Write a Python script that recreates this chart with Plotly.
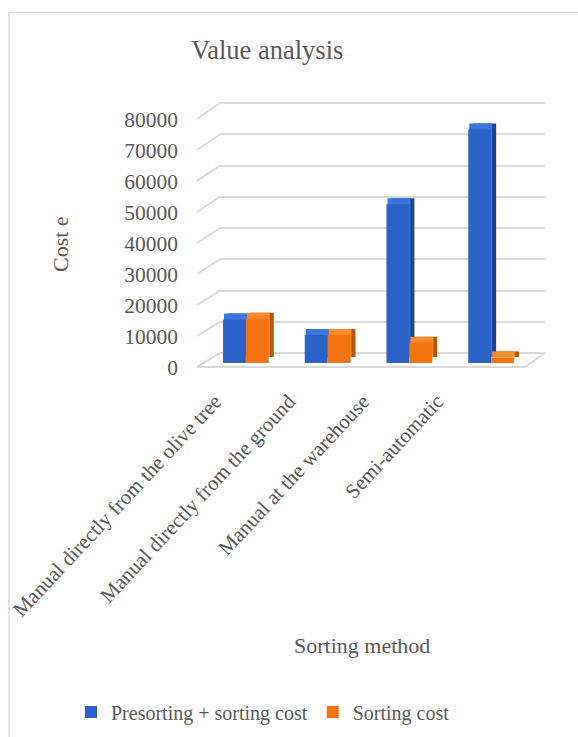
import plotly.graph_objects as go

categories = ["Manual directly from the olive tree", "Manual directly from the ground",
              "Manual at the warehouse", "Semi-automatic"]
presorting_sorting = [14000, 9000, 51000, 75000]
sorting = [14200, 9000, 6500, 1800]
y_ticks = [0, 10000, 20000, 30000, 40000, 50000, 60000, 70000, 80000]
series_names = ["Presorting + sorting cost", "Sorting cost"]

W, H = 578, 737
FONT = "Liberation Serif"
GRAY = "#595959"
GRID = "#d9d9d9"

def px(x):
    return x / W

def py(y):
    return 1 - y / H

# pixel geometry of the fake 3D frame
FRONT_X = (197, 525); FRONT_Y = (367, 119)   # y: zero, top
BACK_X = (220, 545); BACK_Y = (353, 103)
BAR_X = (205, 532); BAR_Y = (363, 114)
SH_DX, SH_DY = 5, 6
LAB_X = (178, 474); LAB_Y = 384
YMAX = 80000
PAD = 800  # value padding so edge gridlines get drawn

fig = go.Figure()

# invisible trace so category labels show (front label axis)
fig.add_trace(go.Scatter(x=categories, y=[None] * len(categories), xaxis="x", yaxis="y",
                         mode="markers", showlegend=False, hoverinfo="skip"))
# back wall gridlines subplot
fig.add_trace(go.Scatter(x=[None], y=[None], xaxis="x2", yaxis="y2", mode="markers",
                         showlegend=False, hoverinfo="skip"))

colors = {
    "blue": dict(front="#2a62c8", side="#1c4392", top="#3b76dc"),
    "orange": dict(front="#f27310", side="#b5570b", top="#f88a2e"),
}
series = [(presorting_sorting, "blue", "a", series_names[0]),
          (sorting, "orange", "b", series_names[1])]

# side faces (shifted right+up), top faces (shifted up), front faces
for layer, (xa, ya) in [("side", ("x3", "y3")), ("top", ("x4", "y4")), ("front", ("x5", "y5"))]:
    for vals, col, grp, name in series:
        fig.add_trace(go.Bar(x=categories, y=vals, xaxis=xa, yaxis=ya,
                             marker=dict(color=colors[col][layer], line=dict(width=0)),
                             offsetgroup=grp, name=name,
                             showlegend=(layer == "front"),
                             hoverinfo="skip" if layer != "front" else None))

shapes = []
# diagonals on left wall
for v in y_ticks:
    yf = FRONT_Y[0] - (FRONT_Y[0] - FRONT_Y[1]) * v / YMAX
    yb = BACK_Y[0] - (BACK_Y[0] - BACK_Y[1]) * v / YMAX
    shapes.append(dict(type="line", xref="paper", yref="paper", layer="below",
                       x0=px(FRONT_X[0]), y0=py(yf), x1=px(BACK_X[0]), y1=py(yb),
                       line=dict(color=GRID, width=2)))
# floor front edge and right edge
shapes.append(dict(type="line", xref="paper", yref="paper", layer="below",
                   x0=px(FRONT_X[0]), y0=py(FRONT_Y[0]), x1=px(FRONT_X[1]), y1=py(FRONT_Y[0]),
                   line=dict(color=GRID, width=2)))
shapes.append(dict(type="line", xref="paper", yref="paper", layer="below",
                   x0=px(FRONT_X[1]), y0=py(FRONT_Y[0]), x1=px(BACK_X[1]), y1=py(BACK_Y[0]),
                   line=dict(color=GRID, width=2)))
# chart border
shapes.append(dict(type="rect", xref="paper", yref="paper", layer="below",
                   x0=px(9), y0=-0.05, x1=1.05, y1=py(12.5),
                   line=dict(color=GRID, width=1.5)))

back_scale = (BACK_Y[0] - BACK_Y[1]) / YMAX
pad_px = PAD * back_scale

fig.update_layout(
    width=W, height=H,
    margin=dict(l=0, r=0, t=0, b=0),
    paper_bgcolor="white", plot_bgcolor="rgba(0,0,0,0)",
    font=dict(family=FONT, color=GRAY, size=20),
    barmode="group", bargap=0.44, bargroupgap=0,
    showlegend=True,
    legend=dict(orientation="h", x=px(263), xanchor="center", y=py(712), yanchor="middle",
                font=dict(size=20, family=FONT, color=GRAY), bgcolor="rgba(0,0,0,0)",
                itemwidth=30, tracegroupgap=0),
    xaxis=dict(domain=[px(LAB_X[0]), px(LAB_X[1])], anchor="free", position=py(LAB_Y),
               type="category", range=[-0.5, 3.5], tickangle=-47, showgrid=False,
               showline=False, zeroline=False, ticks="",
               tickfont=dict(size=21, family=FONT, color=GRAY),
               automargin=False, fixedrange=True),
    yaxis=dict(domain=[py(FRONT_Y[0]), py(FRONT_Y[1])], anchor="free", position=px(178),
               range=[0, YMAX], tickvals=y_ticks, ticktext=[str(v) for v in y_ticks],
               showgrid=False, zeroline=False, showline=False, ticks="",
               tickfont=dict(size=21.5, family=FONT, color=GRAY), automargin=False),
    xaxis2=dict(domain=[px(BACK_X[0]), px(BACK_X[1])], anchor="y2", range=[0, 1],
                visible=False),
    yaxis2=dict(domain=[py(BACK_Y[0] + pad_px), py(BACK_Y[1] - pad_px)], anchor="x2",
                range=[-PAD, YMAX + PAD],
                tickvals=y_ticks, showticklabels=False, showgrid=True, gridcolor=GRID,
                gridwidth=2, zeroline=False, showline=False, ticks=""),
    xaxis3=dict(domain=[px(BAR_X[0] + SH_DX), px(BAR_X[1] + SH_DX)], anchor="y3",
                type="category", range=[-0.5, 3.5], visible=False),
    yaxis3=dict(domain=[py(BAR_Y[0] - SH_DY), py(BAR_Y[1] - SH_DY)], anchor="x3",
                range=[0, YMAX], visible=False),
    xaxis4=dict(domain=[px(BAR_X[0] + 1), px(BAR_X[1] + 1)], anchor="y4",
                type="category", range=[-0.5, 3.5], visible=False),
    yaxis4=dict(domain=[py(BAR_Y[0] - SH_DY), py(BAR_Y[1] - SH_DY)], anchor="x4",
                range=[0, YMAX], visible=False),
    xaxis5=dict(domain=[px(BAR_X[0]), px(BAR_X[1])], anchor="y5",
                type="category", range=[-0.5, 3.5], visible=False),
    yaxis5=dict(domain=[py(BAR_Y[0]), py(BAR_Y[1])], anchor="x5",
                range=[0, YMAX], visible=False),
    shapes=shapes,
    annotations=[
        dict(text="Value analysis", xref="paper", yref="paper", x=px(267), y=py(50),
             showarrow=False, font=dict(size=26.5, family=FONT, color=GRAY),
             xanchor="center", yanchor="middle"),
        dict(text="Cost e", xref="paper", yref="paper", x=px(60), y=py(244),
             showarrow=False, textangle=-90, font=dict(size=22, family=FONT, color=GRAY),
             xanchor="center", yanchor="middle"),
        dict(text="Sorting method", xref="paper", yref="paper", x=px(362), y=py(645),
             showarrow=False, font=dict(size=22, family=FONT, color=GRAY),
             xanchor="center", yanchor="middle"),
    ],
)

fig.write_html("out.html")
